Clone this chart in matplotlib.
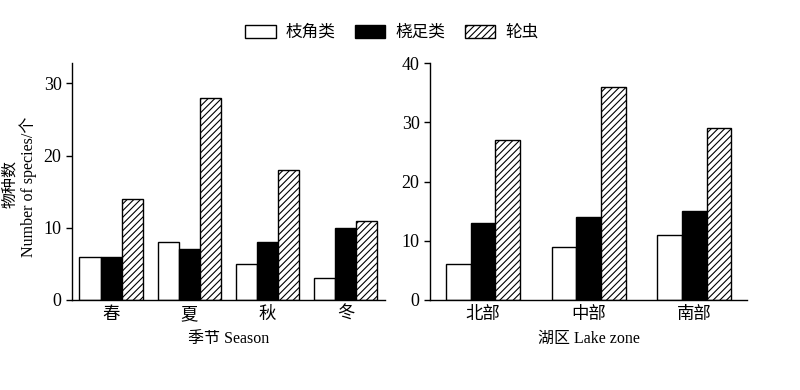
import matplotlib
matplotlib.use("Agg")
import matplotlib.pyplot as plt
import numpy as np

plt.rcParams['font.family'] = ['Liberation Serif', 'Noto Sans CJK SC']
plt.rcParams['hatch.linewidth'] = 0.8

seasons = ['春', '夏', '秋', '冬']
season_cladocera = [6, 8, 5, 3]
season_copepoda = [6, 7, 8, 10]
season_rotifera = [14, 28, 18, 11]

zones = ['北部', '中部', '南部']
zone_cladocera = [6, 9, 11]
zone_copepoda = [13, 14, 15]
zone_rotifera = [27, 36, 29]

series_names = ['枝角类', '桡足类', '轮虫']

fig = plt.figure(figsize=(8, 3.9), dpi=100)
ax1 = fig.add_axes([0.09, 0.2308, 0.391, 0.607])
ax2 = fig.add_axes([0.5375, 0.2308, 0.3965, 0.607])

def draw(ax, cats, a, b, c, w, ylim, yticks, xlabel):
    x = np.arange(len(cats))
    h1 = ax.bar(x - w, a, w, facecolor='white', edgecolor='black', linewidth=1)
    h2 = ax.bar(x, b, w, facecolor='black', edgecolor='black', linewidth=1)
    h3 = ax.bar(x + w, c, w, facecolor='white', edgecolor='black', hatch='/////', linewidth=1)
    ax.set_xlim(-0.5, len(cats) - 0.5)
    ax.set_ylim(*ylim)
    ax.set_yticks(yticks)
    ax.set_xticks(x)
    ax.set_xticklabels(cats, fontsize=12.5)
    ax.tick_params(axis='x', length=0, pad=5)
    ax.tick_params(axis='y', direction='out', length=4, labelsize=13, width=1)
    for s in ['top', 'right']:
        ax.spines[s].set_visible(False)
    ax.spines['left'].set_linewidth(1)
    ax.spines['bottom'].set_linewidth(1)
    ax.set_xlabel(xlabel, fontsize=11.5, labelpad=6)
    return h1, h2, h3

handles = draw(ax1, seasons, season_cladocera, season_copepoda, season_rotifera,
               0.27, (0, 32.8), [0, 10, 20, 30], '季节 Season')
draw(ax2, zones, zone_cladocera, zone_copepoda, zone_rotifera,
     0.233, (0, 40), [0, 10, 20, 30, 40], '湖区 Lake zone')

fig.text(10 / 800, 1 - 184 / 390, '物种数', rotation=90, ha='center', va='center', fontsize=11.5)
fig.text(28 / 800, 1 - 187 / 390, 'Number of species/个', rotation=90, ha='center', va='center',
         fontsize=11.5)

fig.legend(handles, series_names, loc='center', bbox_to_anchor=(0.49, 1 - 33 / 390),
           ncol=3, frameon=False, fontsize=12, handlelength=1.8, handleheight=0.8,
           columnspacing=1.2, handletextpad=0.6)

fig.savefig('out.png', dpi=100)
